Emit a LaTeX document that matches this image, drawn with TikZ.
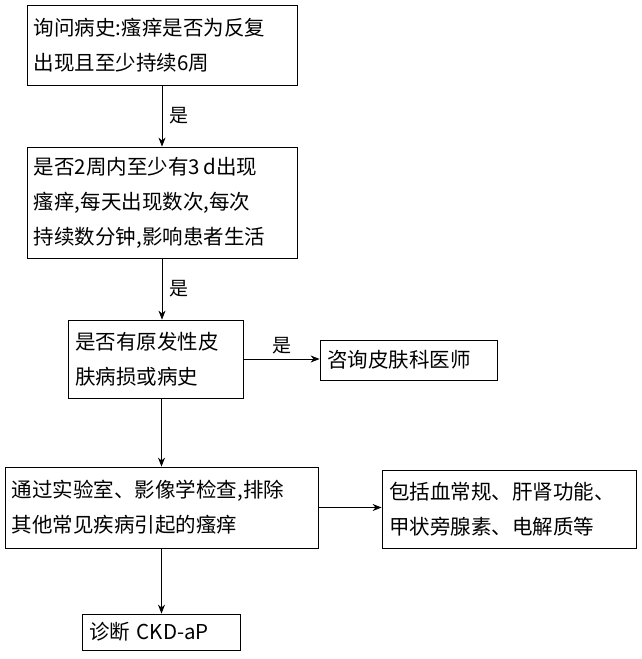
\documentclass[tikz,border=0pt]{standalone}
\usepackage{fontspec}
\setmainfont{Noto Sans CJK SC}
\usepackage{tikz}
\usetikzlibrary{arrows.meta,positioning}
\tikzset{
  box/.style={rectangle,draw,line width=0.8pt,align=left,inner sep=7pt,
    font=\fontsize{20.5}{35}\selectfont},
  arrow/.style={-{Stealth[length=9pt,width=7pt]},line width=0.8pt},
  lbl/.style={font=\fontsize{19}{22}\selectfont},
}
\begin{document}
\begin{tikzpicture}[x=1pt,y=-1pt]
\useasboundingbox (0,0) rectangle (642,659);
\node[box,minimum width=270,minimum height=80,text width=256] (q1) at (162,45)
  {询问病史:瘙痒是否为反复\\出现且至少持续6周};
\node[box,minimum width=270,minimum height=111,text width=256] (q2) at (162,202.5)
  {是否2周内至少有3\,d出现\\瘙痒,每天出现数次,每次\\持续数分钟,影响患者生活};
\node[box,minimum width=175,minimum height=78,text width=161] (q3) at (155.5,359)
  {是否有原发性皮\\肤病损或病史};
\node[box,minimum width=177,minimum height=40,text width=163] (derm) at (408.5,360)
  {咨询皮肤科医师};
\node[box,minimum width=313,minimum height=81,text width=299] (lab) at (161.5,507.5)
  {通过实验室、影像学检查,排除\\其他常见疾病引起的瘙痒};
\node[box,minimum width=254,minimum height=78,text width=240] (tests) at (509,509)
  {包括血常规、肝肾功能、\\甲状旁腺素、电解质等};
\node[box,minimum width=158,minimum height=36,text width=144] (diag) at (161,632)
  {诊断 CKD-aP};

\draw[arrow] (q1.south) -- node[lbl,right=4pt] {是} (q1.south |- q2.north);
\draw[arrow] (q2.south) -- node[lbl,right=4pt] {是} (q2.south |- q3.north);
\draw[arrow] (q3.east) -- node[lbl,above=1pt] {是} (derm.west |- q3.east);
\draw[arrow] (lab.north |- q3.south) -- (lab.north);
\draw[arrow] (lab.east) -- (tests.west |- lab.east);
\draw[arrow] (lab.south) -- (lab.south |- diag.north);
\end{tikzpicture}
\end{document}
